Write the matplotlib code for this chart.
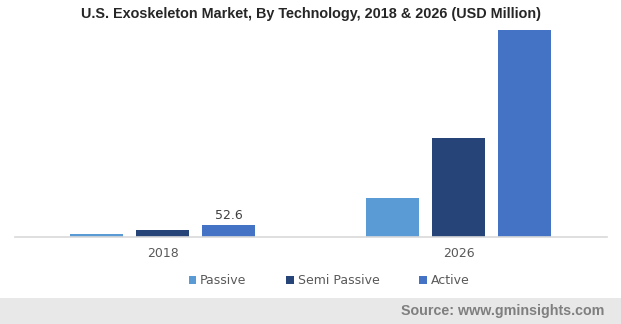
import matplotlib
matplotlib.use("Agg")
import matplotlib.pyplot as plt
import numpy as np
from matplotlib.patches import Rectangle

years = ["2018", "2026"]
series = ["Passive", "Semi Passive", "Active"]
passive = [13, 178]
semi_passive = [30, 453]
active = [52.6, 946]
colors = ["#5b9bd5", "#264478", "#4472c4"]

fig = plt.figure(figsize=(6.21, 3.24), dpi=100)
ax = fig.add_axes([14.5/621, 87/324, 592/621, 219/324])

x = np.arange(len(years))
w = 0.176
step = 0.223
for i, (name, vals, c) in enumerate(zip(series, [passive, semi_passive, active], colors)):
    bars = ax.bar(x + (i - 1) * step, vals, width=w, color=c, label=name)
    if name == "Active":
        ax.text(x[0] + step, vals[0] + 14, f"{vals[0]}", ha="center", va="bottom",
                fontsize=9, color="#404040", family="DejaVu Sans")

ax.set_xlim(-0.5, 1.5)
ax.set_ylim(0, 1000)
ax.set_yticks([])
for s in ["top", "right", "left"]:
    ax.spines[s].set_visible(False)
ax.spines["bottom"].set_color("#d9d9d9")
ax.spines["bottom"].set_linewidth(1.2)
ax.set_xticks(x)
ax.set_xticklabels(years, fontsize=9, color="#595959", family="DejaVu Sans")
ax.tick_params(axis="x", length=0, pad=7)

fig.text(311/621, 1 - 14/324, "U.S. Exoskeleton Market, By Technology, 2018 & 2026 (USD Million)",
         ha="center", va="center", fontsize=10.4, fontweight="bold", color="#262626",
         family="Liberation Sans")

leg = fig.legend(loc="center", bbox_to_anchor=(329/621, 1 - 281/324), ncol=3, frameon=False,
                 handlelength=0.6, handleheight=0.6, handletextpad=0.3,
                 columnspacing=3.2, prop={"family": "DejaVu Sans", "size": 9})
for t in leg.get_texts():
    t.set_color("#595959")

fig.patches.append(Rectangle((0, 0), 1, 26/324, transform=fig.transFigure,
                             facecolor="#e8e8e8", edgecolor="none", zorder=0))
fig.text(604/621, 13/324, "Source: www.gminsights.com", ha="right", va="center",
         fontsize=10.25, fontweight="bold", color="#7f7f7f", family="Liberation Sans")

fig.savefig("out.png", dpi=100)
